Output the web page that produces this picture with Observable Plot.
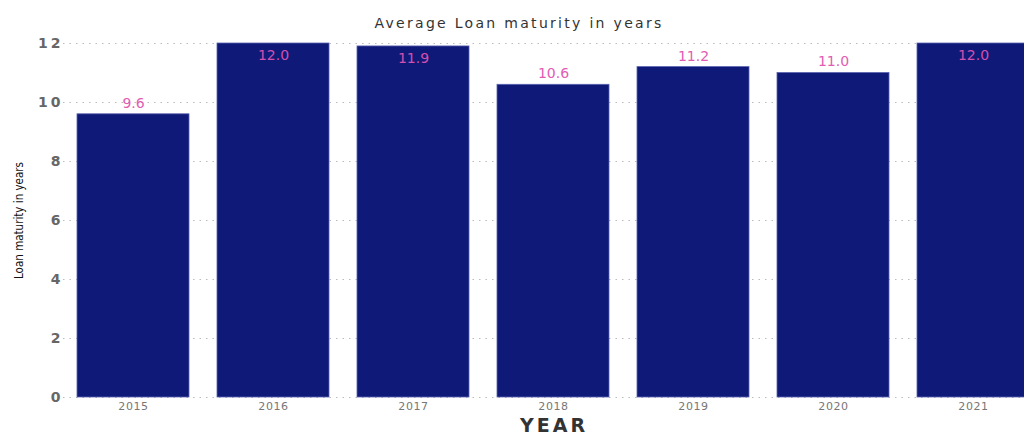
<!DOCTYPE html>
<html>
<head>
<meta charset="utf-8">
<script src="https://cdn.jsdelivr.net/npm/d3@7"></script>
<script src="https://cdn.jsdelivr.net/npm/@observablehq/plot@0.6"></script>
<style>
  html, body { margin: 0; padding: 0; background: #fff; }
  #chart svg { overflow: visible; }
</style>
</head>
<body>
<div id="chart"></div>
<script>
const years = ["2015", "2016", "2017", "2018", "2019", "2020", "2021"];
const maturity = [9.6, 12.0, 11.9, 10.6, 11.2, 11.0, 12.0];
const yTicks = [0, 2, 4, 6, 8, 10, 12];
const titleText = "Average Loan maturity in years";
const yLabel = "Loan maturity in years";
const xLabel = "YEAR";

const data = years.map((y, i) => ({year: y, value: maturity[i]}));
const above = data.filter(d => d.value < 11.5);
const inside = data.filter(d => d.value >= 11.5);

const chart = Plot.plot({
  width: 1024,
  height: 434,
  marginTop: 43,
  marginBottom: 37,
  marginLeft: 63,
  marginRight: 0,
  style: {background: "#fff", fontFamily: "'DejaVu Sans', sans-serif", overflow: "visible"},
  x: {domain: years, paddingInner: 0.2, paddingOuter: 0.1, label: null, range: [63, 1043]},
  y: {domain: [0, 12], label: null},
  marks: [
    Plot.gridY(yTicks, {stroke: "#bbb", strokeOpacity: 1, strokeDasharray: "1.5,5", strokeWidth: 1}),
    Plot.barY(data, {x: "year", y: "value", fill: "#0f1a78", stroke: "#5a63b0", strokeWidth: 0.8}),
    Plot.axisY({ticks: yTicks, tickSize: 0, tickPadding: 0, label: null,
      fontFamily: "'DejaVu Sans', sans-serif", fontWeight: "bold", fontSize: 14, fill: "#666"}),
    Plot.axisX({tickSize: 0, tickPadding: 5, label: null,
      fontFamily: "'DejaVu Sans', sans-serif", fontSize: 11, fill: "#777"}),
    Plot.text(above, {x: "year", y: "value", text: d => d.value.toFixed(1), dy: -11,
      fill: "#e25cb3", fontSize: 14, fontFamily: "'DejaVu Sans', sans-serif"}),
    Plot.text(inside, {x: "year", y: "value", text: d => d.value.toFixed(1), dy: 12,
      fill: "#d34fb0", fontSize: 14, fontFamily: "'DejaVu Sans', sans-serif"}),
    Plot.text([titleText], {frameAnchor: "top", dy: -25, dx: -25, fontSize: 14, fill: "#333",
      fontFamily: "'DejaVu Sans', sans-serif"}),
    Plot.text([xLabel], {frameAnchor: "bottom", dy: 34, dx: 10, fontSize: 19, fontWeight: "bold", fill: "#333",
      fontFamily: "'DejaVu Sans', sans-serif"}),
    Plot.text([yLabel], {frameAnchor: "left", dx: -44, rotate: -90, textAnchor: "middle", fontSize: 11.5, fill: "#111",
      fontFamily: "'DejaVu Sans Condensed', sans-serif"})
  ]
});

// letter spacing to mimic the stretched look of the reference
d3.select(chart).selectAll("text").each(function() {
  const t = this.textContent;
  const s = d3.select(this);
  if (t === titleText) s.style("letter-spacing", "2.3px");
  else if (t === xLabel) s.style("letter-spacing", "3px");
  else if (years.includes(t)) s.style("letter-spacing", "0.6px");
  else if (yTicks.map(String).includes(t)) s.style("letter-spacing", "3px");
});
document.getElementById("chart").appendChild(chart);
</script>
</body>
</html>
